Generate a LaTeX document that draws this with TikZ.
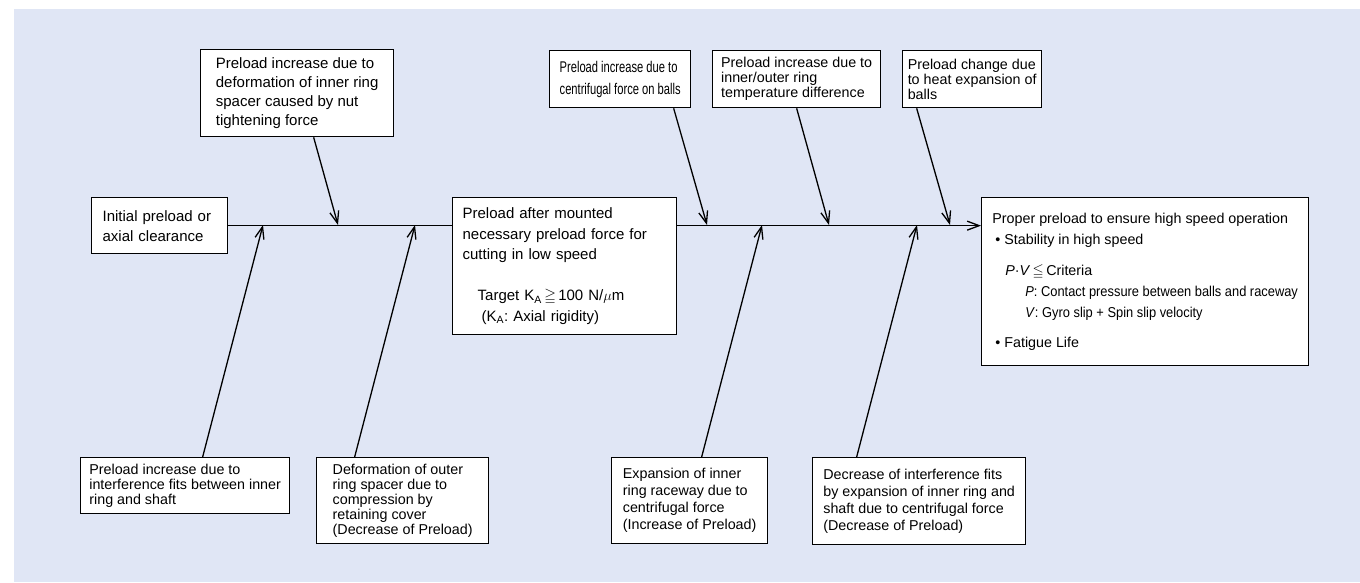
\documentclass[tikz,border=0pt]{standalone}
\usepackage{amssymb}
\usepackage{fontspec}
\setmainfont{Liberation Sans}
\newfontfamily\narrowfont[FakeStretch=0.72]{Liberation Sans}
\newfontfamily\condfont[FakeStretch=0.9]{Liberation Sans}
\usetikzlibrary{arrows.meta}
\definecolor{bgblue}{RGB}{224,230,245}
\frenchspacing

\begin{document}
\begin{tikzpicture}[x=1pt, y=-1pt, >={Straight Barb[length=12pt,width=9pt]}, line width=1.3pt]

\tikzstyle{cause} = [rectangle, draw=black, fill=white, anchor=north west, align=left, inner sep=0pt, font=\fontsize{14.3}{15}\selectfont]
\tikzstyle{flow} = [->]

\useasboundingbox (0,0) rectangle (1360,582);
\fill [bgblue] (14,9) rectangle (1360,582);

% head and tail of the fishbone
\node (I) [cause, text width=114pt, inner xsep=11pt, minimum height=56pt, font=\fontsize{15}{20}\selectfont] at (91,197) {Initial preload or\\axial clearance};
\node (C) [cause, text width=204pt, inner xsep=10pt, minimum height=137pt, font=\fontsize{15}{20.5}\selectfont] at (452,197) {Preload after mounted\\necessary preload force for\\cutting in low speed\\[20.5pt]\hspace*{15pt}Target K\textsubscript{A}$\,\geqq\,$100 N/$\mu$m\\\hspace*{19pt}(K\textsubscript{A}: Axial rigidity)};
\node (G) [cause, minimum width=327pt, minimum height=168pt, font=\fontsize{14.3}{21}\selectfont] at (981,197) {Proper preload to ensure high speed operation\\\hspace*{3pt}\textbullet\ Stability in high speed\\[10pt]\hspace*{13pt}\textit{P}\textperiodcentered\textit{V}$\,\leqq\,$Criteria\\\hspace*{33pt}{\condfont\textit{P}: Contact pressure between balls and raceway}\\\hspace*{33pt}{\condfont\textit{V}: Gyro slip + Spin slip velocity}\\[9pt]\hspace*{3pt}\textbullet\ Fatigue Life};

% upper causes
\node (T1) [cause, minimum width=193pt, minimum height=87pt, font=\fontsize{15}{19}\selectfont] at (200,49) {Preload increase due to\\deformation of inner ring\\spacer caused by nut\\tightening force};
\node (T2) [cause, minimum width=141pt, minimum height=57pt, font=\narrowfont\fontsize{15.5}{21.7}\selectfont] at (549,50) {Preload increase due to\\centrifugal force on balls};
\node (T3) [cause, minimum width=168pt, minimum height=57pt] at (712,50) {Preload increase due to\\inner/outer ring\\temperature difference};
\node (T4) [cause, minimum width=139pt, minimum height=57pt] at (902,50) {Preload change due\\to heat expansion of\\balls};

% lower causes
\node (B1) [cause, minimum width=209pt, minimum height=56pt] at (80,457) {Preload increase due to\\interference fits between inner\\ring and shaft};
\node (B2) [cause, minimum width=172pt, minimum height=86pt] at (316,457) {Deformation of outer\\ring spacer due to\\compression by\\retaining cover\\(Decrease of Preload)};
\node (B3) [cause, minimum width=156pt, minimum height=86pt, font=\fontsize{14.3}{17}\selectfont] at (611,457) {Expansion of inner\\ring raceway due to\\centrifugal force\\(Increase of Preload)};
\node (B4) [cause, minimum width=213pt, minimum height=87pt, font=\fontsize{14.3}{17}\selectfont] at (812,457) {Decrease of interference fits\\by expansion of inner ring and\\shaft due to centrifugal force\\(Decrease of Preload)};

% joints on the spine
\coordinate (t1) at (338,225);
\coordinate (t2) at (707,225);
\coordinate (t3) at (829,225);
\coordinate (t4) at (950,225);
\coordinate (b1) at (263,225);
\coordinate (b2) at (415,225);
\coordinate (b3) at (762,225);
\coordinate (b4) at (917,225);

\draw (I.east) -- (I.east -| C.west);
\draw [flow] (I.east -| C.east) -- (I.east -| G.west);

\draw [flow] ([xshift=16.5pt]T1.south) -- (t1);
\draw [flow] ([xshift=53.5pt]T2.south) -- (t2);
\draw [flow] (T3.south) -- (t3);
\draw [flow] ([xshift=-55.5pt]T4.south) -- (t4);
\draw [flow] ([xshift=17.5pt]B1.north) -- (b1);
\draw [flow] ([xshift=-48pt]B2.north) -- (b2);
\draw [flow] ([xshift=12pt]B3.north) -- (b3);
\draw [flow] ([xshift=-62.5pt]B4.north) -- (b4);

\end{tikzpicture}
\end{document}
